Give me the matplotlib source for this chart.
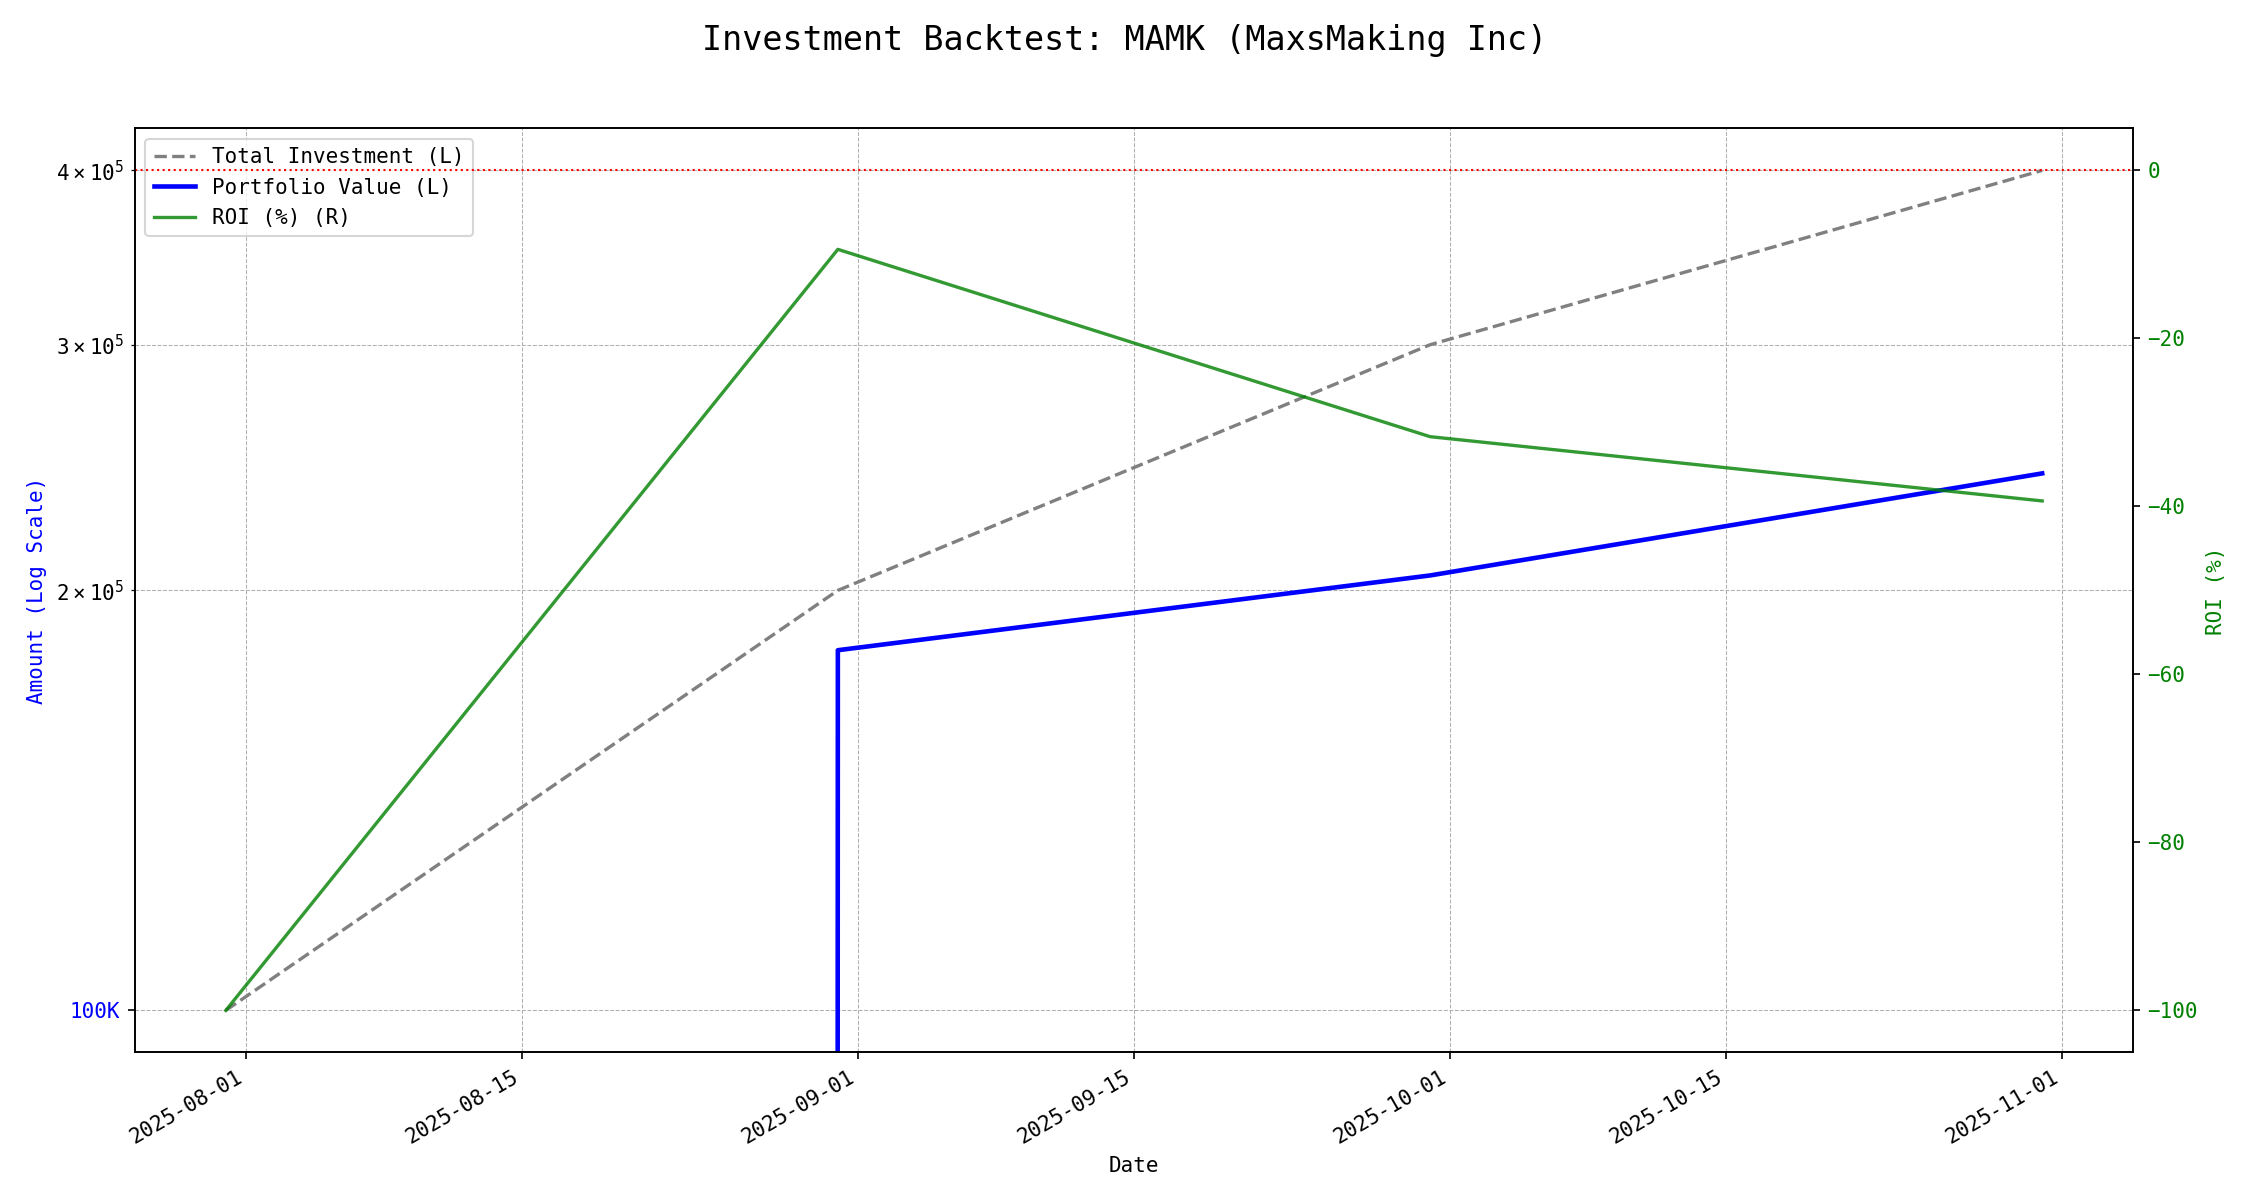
import numpy as np
import pandas as pd
import matplotlib
matplotlib.use('Agg')
from matplotlib import pyplot as plt
from matplotlib.ticker import FuncFormatter

plt.rcParams['font.family'] = ['DejaVu Sans Mono']

# data (month-end snapshots)
dates = pd.to_datetime(['2025-07-31', '2025-08-31', '2025-09-30', '2025-10-31'])
total_investment = [100000, 200000, 300000, 400000]
portfolio_value = [0, 181200, 205000, 242600]
roi_pct = [-100.0, -9.4, -31.7, -39.35]

fig, ax1 = plt.subplots(figsize=(15, 8), dpi=150)

l1, = ax1.plot(dates, total_investment, color='gray', linestyle='--', linewidth=1.6,
               label='Total Investment (L)')
l2, = ax1.plot(dates, portfolio_value, color='blue', linewidth=2.2,
               label='Portfolio Value (L)')
ax1.set_yscale('log')
ax1.yaxis.set_major_formatter(FuncFormatter(lambda v, p: f'{v/1000:.0f}K'))
ax1.tick_params(axis='y', labelcolor='blue')
ax1.set_ylabel('Amount (Log Scale)', color='blue')
ax1.set_xlabel('Date')
ax1.grid(True, which='both', linestyle='--', linewidth=0.5, color='#b0b0b0')

ax2 = ax1.twinx()
l3, = ax2.plot(dates, roi_pct, color='green', alpha=0.8, linewidth=1.6,
               label='ROI (%) (R)')
ax2.axhline(0, color='red', linestyle=':', linewidth=1)
ax2.tick_params(axis='y', labelcolor='green')
ax2.set_ylabel('ROI (%)', color='green')

ax1.legend(handles=[l1, l2, l3], loc='upper left')

fig.suptitle('Investment Backtest: MAMK (MaxsMaking Inc)', fontsize=16)
fig.autofmt_xdate()
fig.subplots_adjust(left=0.06, right=0.948, top=0.893, bottom=0.123)
plt.savefig('out.png')
plt.close()
